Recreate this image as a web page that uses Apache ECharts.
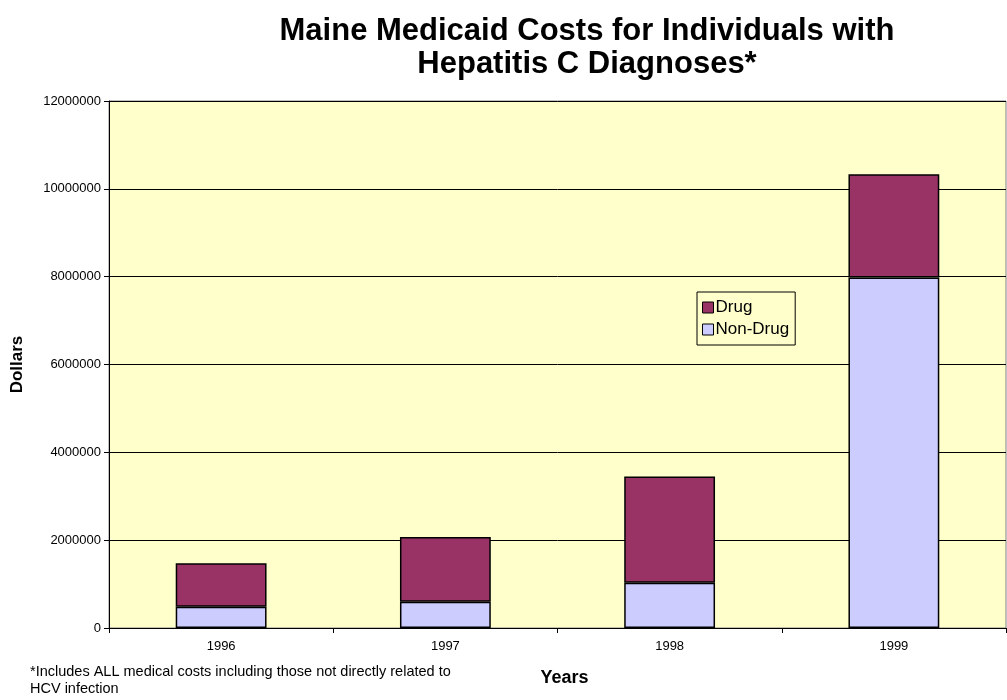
<!DOCTYPE html>
<html>
<head>
<meta charset="utf-8">
<script src="https://cdn.jsdelivr.net/npm/echarts@6/dist/echarts.min.js"></script>
<style>html,body{margin:0;padding:0;background:#fff;}#c{width:1007px;height:700px;}</style>
</head>
<body>
<div id="c"></div>
<script>
var categories = ['1996', '1997', '1998', '1999'];
var nonDrug = [486000, 600000, 1030000, 7980000];
var drug = [989000, 1470000, 2420000, 2350000];
var yTicks = { min: 0, max: 12000000, interval: 2000000 };

var chart = echarts.init(document.getElementById('c'));
var font = '"Liberation Sans", Arial, sans-serif';
chart.setOption({
  animation: false,
  backgroundColor: '#ffffff',
  title: {
    text: 'Maine Medicaid Costs for Individuals with\nHepatitis C Diagnoses*',
    left: 582, top: 10, textAlign: 'center',
    textStyle: { fontFamily: font, fontSize: 31, fontWeight: 'bold', color: '#000', lineHeight: 33 }
  },
  grid: {
    left: 109, right: 1, top: 101, bottom: 72,
    containLabel: false, outerBoundsMode: 'none',
    show: true, backgroundColor: '#FFFFCC', borderColor: '#808080', borderWidth: 1
  },
  legend: {
    orient: 'vertical', left: 697, top: 292,
    data: ['Drug', 'Non-Drug'],
    itemWidth: 11, itemHeight: 11, itemGap: 5,
    icon: 'rect',
    backgroundColor: '#FFFFCC', borderColor: '#000', borderWidth: 1,
    padding: [7, 6, 7, 5],
    textStyle: { fontFamily: font, fontSize: 17, color: '#000', padding: [0, 0, 0, -3] },
    itemStyle: { borderColor: '#000', borderWidth: 1 }
  },
  xAxis: {
    type: 'category', data: categories,
    name: 'Years', nameLocation: 'middle', nameGap: 41,
    nameTextStyle: { fontFamily: font, fontSize: 18, fontWeight: 'bold', color: '#000', padding: [0, 0, 0, 14] },
    axisLine: { lineStyle: { color: '#000', width: 1 } },
    axisTick: { show: true, alignWithLabel: false, length: 5, lineStyle: { color: '#000' } },
    axisLabel: { fontFamily: font, fontSize: 13, color: '#000', margin: 12 },
    splitLine: { show: false }
  },
  yAxis: {
    type: 'value', min: yTicks.min, max: yTicks.max, interval: yTicks.interval,
    name: 'Dollars', nameLocation: 'middle', nameGap: 83, nameRotate: 90,
    nameTextStyle: { fontFamily: font, fontSize: 17, fontWeight: 'bold', color: '#000' },
    axisLine: { show: true, lineStyle: { color: '#000', width: 1 } },
    axisTick: { show: true, length: 5, lineStyle: { color: '#000' } },
    axisLabel: { fontFamily: font, fontSize: 13, color: '#000', margin: 8,
      formatter: function (v) { return String(v); } },
    splitLine: { show: true, lineStyle: { color: '#000', width: 1 } }
  },
  series: [
    {
      name: 'Non-Drug', type: 'bar', stack: 'total', data: nonDrug,
      barWidth: '40.5%',
      itemStyle: { color: '#CCCCFF', borderColor: '#000', borderWidth: 1.5 }
    },
    {
      name: 'Drug', type: 'bar', stack: 'total', data: drug,
      barWidth: '40.5%',
      itemStyle: { color: '#993366', borderColor: '#000', borderWidth: 1.5 }
    }
  ],
  graphic: [
    {
      type: 'text', left: 30, top: 663,
      style: {
        text: '*Includes ALL medical costs including those not directly related to\nHCV infection',
        fontFamily: font, fontSize: 14.5, fill: '#000', lineHeight: 17
      }
    }
  ]
});
</script>
</body>
</html>
